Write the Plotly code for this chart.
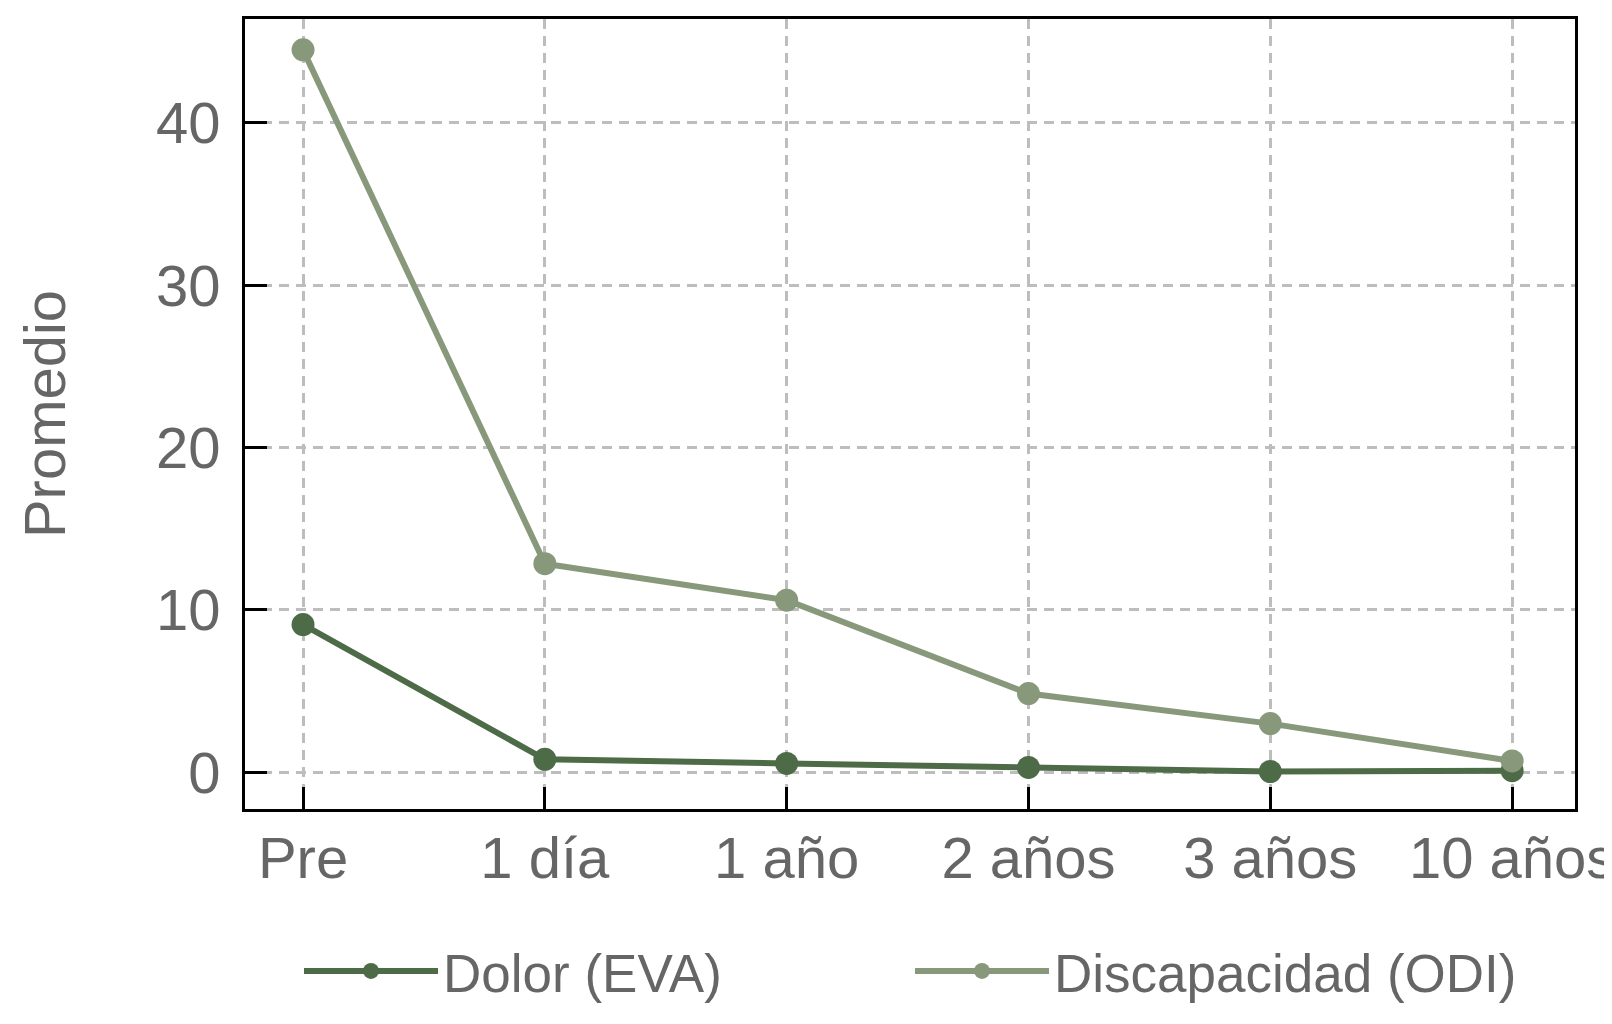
import plotly.graph_objects as go

# datos
tiempos = ["Pre", "1 día", "1 año", "2 años", "3 años", "10 años"]
dolor_eva = [9.1, 0.8, 0.55, 0.3, 0.05, 0.1]
discapacidad_odi = [44.5, 12.85, 10.6, 4.85, 3.0, 0.7]

COLOR_EVA = "#4e6b47"
COLOR_ODI = "#87987b"
FONT = "Liberation Sans, Arial, sans-serif"

fig = go.Figure()

fig.add_trace(go.Scatter(
    x=tiempos, y=dolor_eva,
    mode="lines+markers",
    name="Dolor (EVA)",
    line=dict(color=COLOR_EVA, width=6),
    marker=dict(size=23, color=COLOR_EVA),
))

fig.add_trace(go.Scatter(
    x=tiempos, y=discapacidad_odi,
    mode="lines+markers",
    name="Discapacidad (ODI)",
    line=dict(color=COLOR_ODI, width=6),
    marker=dict(size=23, color=COLOR_ODI),
))

axis_common = dict(
    showline=True, linecolor="black", linewidth=3, mirror=True,
    ticks="inside", ticklen=22, tickwidth=3, tickcolor="black",
    showgrid=True, gridcolor="#bdbdbd", gridwidth=2.5, griddash="10px,7px",
    zeroline=False, automargin=False,
    tickfont=dict(family=FONT, size=58, color="#666666"),
)

fig.update_xaxes(range=[-0.24, 5.26], ticklabelstandoff=-4, **axis_common)
fig.update_yaxes(
    range=[-2.26, 46.4], tickvals=[0, 10, 20, 30, 40], ticklabelstandoff=10,
    title=dict(text="Promedio", font=dict(family=FONT, size=58, color="#666666"), standoff=72),
    **axis_common,
)

# la pagina deja 8px de margen en el body, se compensa aqui
fig.update_layout(
    width=1604, height=1016,
    margin=dict(l=237, r=37, t=11, b=215, autoexpand=False),
    paper_bgcolor="white",
    plot_bgcolor="white",
    font=dict(family=FONT, color="#666666"),
    showlegend=True,
    legend=dict(
        orientation="h",
        xanchor="center", x=0.5,
        yanchor="middle", y=-0.205,
        font=dict(family=FONT, size=53, color="#666666"),
        itemwidth=134,
        entrywidth=462,
        bgcolor="rgba(0,0,0,0)",
    ),
)

fig.write_html("out.html")
